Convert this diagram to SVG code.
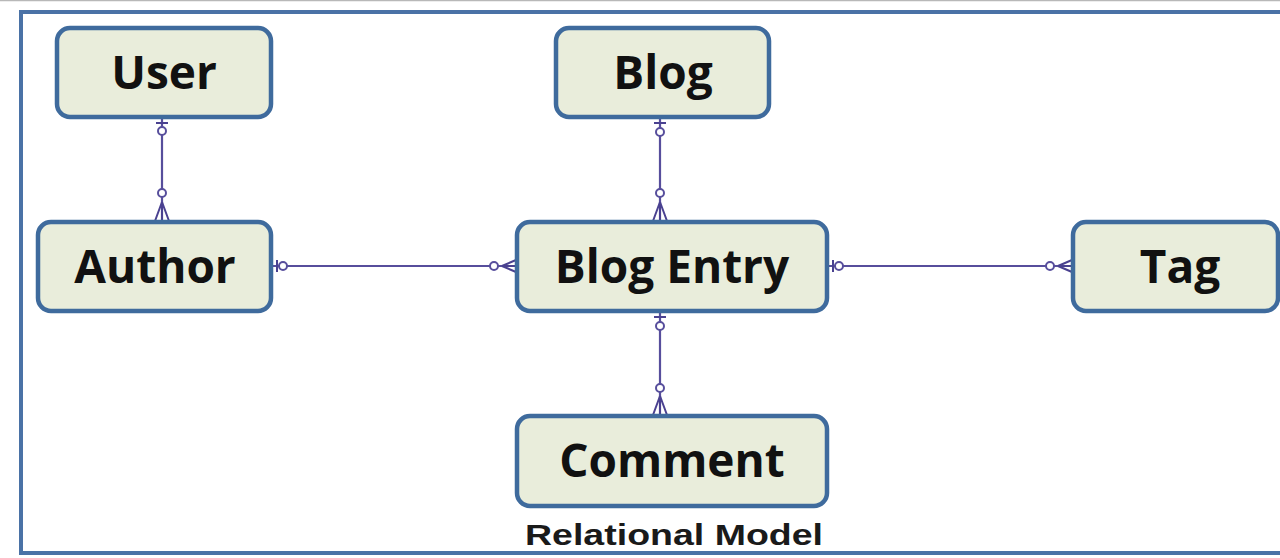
<svg xmlns="http://www.w3.org/2000/svg" width="1280" height="558" viewBox="0 0 1280 558">
  <style>
    .box { fill: #e9eddb; stroke: #3f6b9d; stroke-width: 4.5; }
    .lbl { font-family: "Open Sans", "Noto Sans", sans-serif; font-weight: bold; font-size: 46px; fill: #111; text-anchor: middle; }
    .rel { stroke: #574e9c; stroke-width: 2.2; fill: none; }
    .dot { fill: #ffffff; stroke: #574e9c; stroke-width: 2; }
    .foot { stroke: #4a4190; stroke-width: 2; fill: none; }
  </style>
  <rect width="1280" height="558" fill="#ffffff"/>
  <line x1="0" y1="0.5" x2="1280" y2="0.5" stroke="#b8b8b8" stroke-width="1.5"/>
  <!-- outer frame (open on the right) -->
  <path d="M1290 12 H21 V553 H1290" fill="none" stroke="#4a72a6" stroke-width="4"/>

  <g id="connectors">
    <!-- User - Author -->
    <line class="rel" x1="162" y1="118" x2="162" y2="222"/>
    <line class="foot" x1="156" y1="123" x2="168" y2="123"/>
    <circle class="dot" cx="162" cy="131" r="4"/>
    <circle class="dot" cx="162" cy="193" r="4"/>
    <path class="foot" d="M162 202 L155 221 M162 202 L169 221 M162 202 V221"/>
    <!-- Blog - Blog Entry -->
    <line class="rel" x1="660" y1="118" x2="660" y2="222"/>
    <line class="foot" x1="654" y1="123" x2="666" y2="123"/>
    <circle class="dot" cx="660" cy="132" r="4"/>
    <circle class="dot" cx="660" cy="193" r="4"/>
    <path class="foot" d="M660 202 L653 221 M660 202 L667 221 M660 202 V221"/>
    <!-- Blog Entry - Comment -->
    <line class="rel" x1="660" y1="312" x2="660" y2="416"/>
    <line class="foot" x1="654" y1="317" x2="666" y2="317"/>
    <circle class="dot" cx="660" cy="326" r="4"/>
    <circle class="dot" cx="660" cy="388" r="4"/>
    <path class="foot" d="M660 396 L653 415 M660 396 L667 415 M660 396 V415"/>
    <!-- Author - Blog Entry -->
    <line class="rel" x1="272" y1="266" x2="517" y2="266"/>
    <line class="foot" x1="277" y1="260" x2="277" y2="272"/>
    <circle class="dot" cx="283" cy="266" r="4"/>
    <circle class="dot" cx="494" cy="266" r="4"/>
    <path class="foot" d="M502 266 L516 260 M502 266 L516 272 M502 266 H516"/>
    <!-- Blog Entry - Tag -->
    <line class="rel" x1="828" y1="266" x2="1073" y2="266"/>
    <line class="foot" x1="833" y1="260" x2="833" y2="272"/>
    <circle class="dot" cx="839" cy="266" r="4"/>
    <circle class="dot" cx="1050" cy="266" r="4"/>
    <path class="foot" d="M1058 266 L1072 260 M1058 266 L1072 272 M1058 266 H1072"/>
  </g>

  <g id="user">
    <rect class="box" x="57" y="28" width="214" height="89" rx="13"/>
    <text class="lbl" x="164" y="89">User</text>
  </g>
  <g id="blog">
    <rect class="box" x="556" y="28" width="213" height="89" rx="13"/>
    <text class="lbl" x="663" y="89">Blog</text>
  </g>
  <g id="author">
    <rect class="box" x="38" y="222" width="233" height="89" rx="13"/>
    <text class="lbl" x="155" y="283">Author</text>
  </g>
  <g id="blog-entry">
    <rect class="box" x="517" y="222" width="310" height="89" rx="13"/>
    <text class="lbl" x="672" y="283">Blog Entry</text>
  </g>
  <g id="tag">
    <rect class="box" x="1073" y="222" width="205" height="89" rx="13"/>
    <text class="lbl" x="1180" y="283">Tag</text>
  </g>
  <g id="comment">
    <rect class="box" x="517" y="416" width="310" height="90" rx="13"/>
    <text class="lbl" x="672" y="477">Comment</text>
  </g>

  <text x="525" y="545" textLength="298" lengthAdjust="spacingAndGlyphs" font-family="Liberation Sans, Arial, sans-serif" font-weight="bold" font-size="30" fill="#1a1a1a">Relational Model</text>
</svg>
